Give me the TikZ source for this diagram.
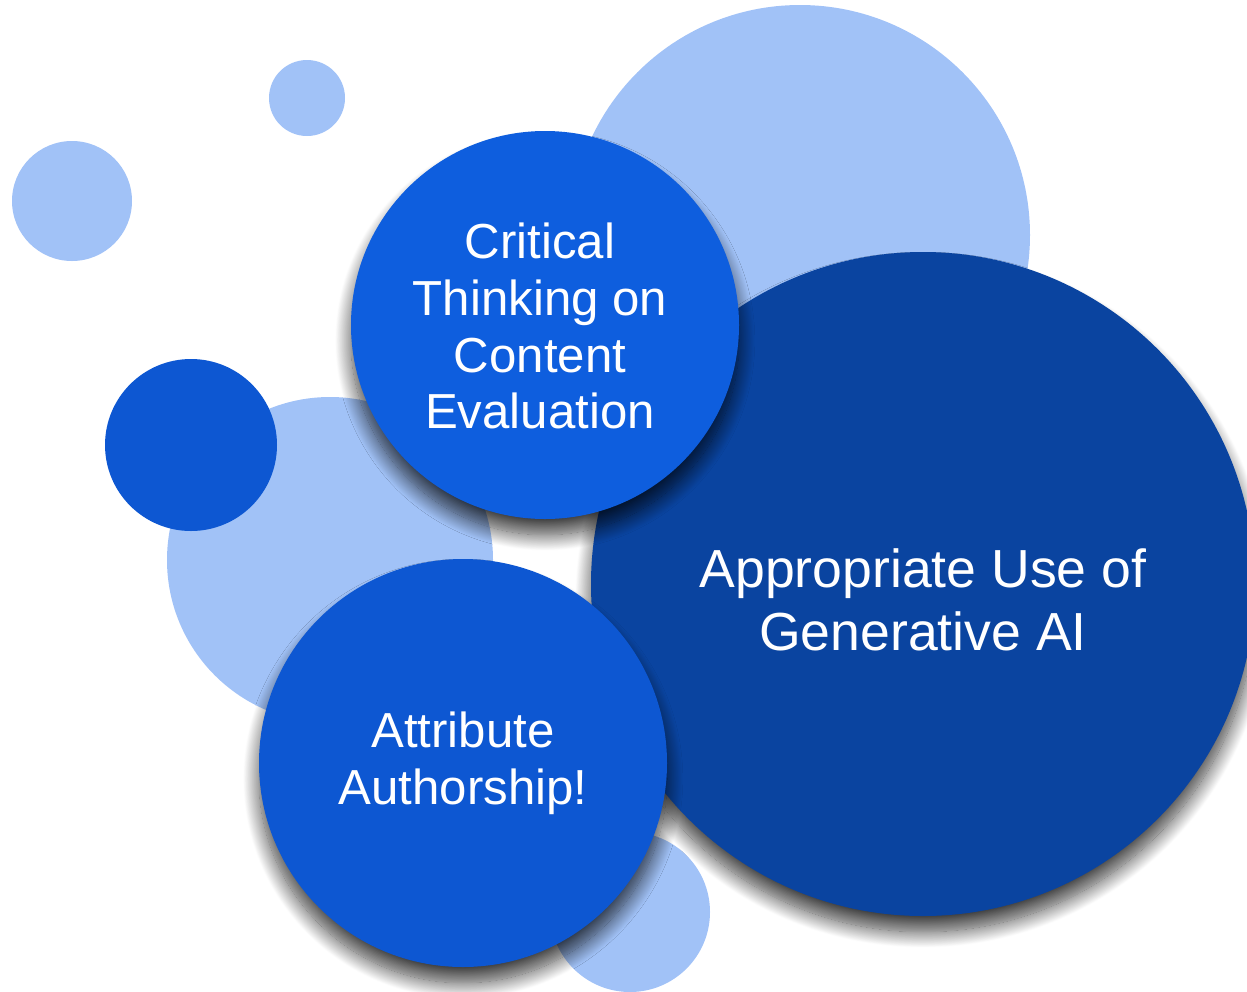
\documentclass[tikz,border=0pt]{standalone}
\usepackage{fontspec}
\setmainfont{Liberation Sans}
\usetikzlibrary{shadows.blur}
\definecolor{bubblelight}{RGB}{161,194,247}
\definecolor{bubblemid}{RGB}{14,94,222}
\definecolor{bubbledeep}{RGB}{13,87,210}
\definecolor{bubblenavy}{RGB}{10,68,160}

\begin{document}
\begin{tikzpicture}[x=0.02cm,y=-0.02cm]
	\tikzset{bubble/.style={circle,inner sep=0pt,text=white,align=center},
		dropshade/.style={blur shadow={shadow xshift=0pt,shadow yshift=-9pt,shadow blur radius=9pt,shadow blur steps=24,shadow opacity=75}}}
	\def\smallfont{\fontsize{28}{32.4}\selectfont}
	\def\bigfont{\fontsize{30.5}{35.8}\selectfont}
	\useasboundingbox (0,0) rectangle (1247,991);
	% light bubbles in the back
	\foreach \n/\x/\y/\r in {ltop/800/235/230,lsmall/307/98/38,lleft/72/201/60,lback/330/560/163,lbottom/630/912/80}
	\node[bubble,fill=bubblelight,minimum size={2*\r*0.02cm}] (\n) at (\x,\y) {};
	\node[bubble,fill=bubbledeep,minimum size={2*86*0.02cm}] (dot) at (191,445) {};
	% main bubbles
	\node[bubble,fill=bubblenavy,dropshade,minimum size={2*332*0.02cm}] (genai) at (923,584) {};
	\node[text=white,align=center,font=\bigfont] (genaitext) at (923,600) {Appropriate Use of\\Generative AI};
	\node[bubble,fill=bubblemid,dropshade,minimum size={2*194*0.02cm}] (critical) at (545,325) {};
	\node[text=white,align=center,font=\smallfont] (criticaltext) at (540,326)
		{Critical\\Thinking on\\Content\\Evaluation};
	\node[bubble,fill=bubbledeep,dropshade,minimum size={2*204*0.02cm},font=\smallfont] (author) at (463,763)
		{Attribute\\Authorship!};
\end{tikzpicture}
\end{document}
